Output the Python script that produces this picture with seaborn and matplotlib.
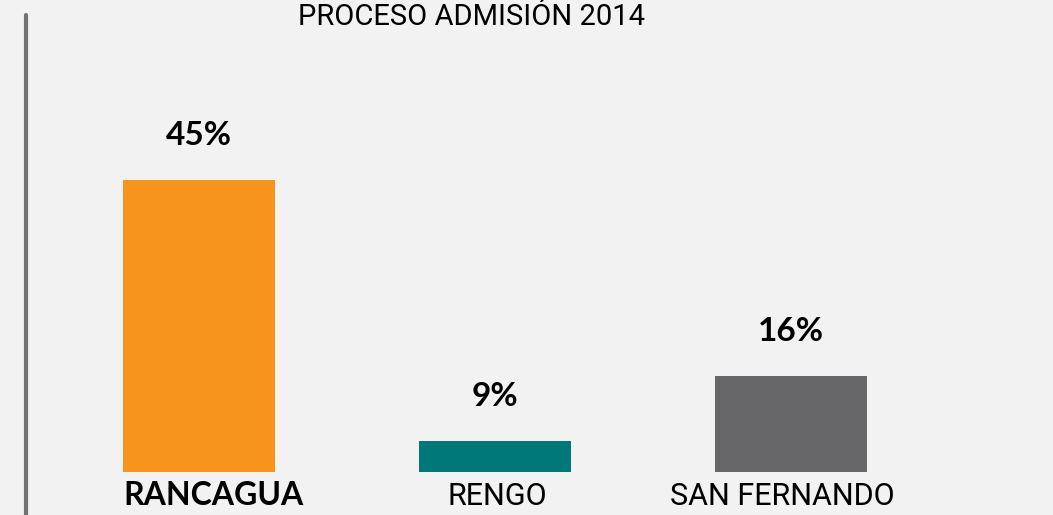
import pandas as pd
import matplotlib.pyplot as plt
import seaborn as sns

# data
ciudades = ["RANCAGUA", "RENGO", "SAN FERNANDO"]
etiquetas = ["45%", "9%", "16%"]
alturas = [45, 4.8, 14.8]   # drawn bar heights (chart is not to scale)
colores = ["#F7941D", "#00787A", "#676769"]

df = pd.DataFrame({"ciudad": ciudades, "valor": alturas})

sns.set_theme(style="white")
plt.rcParams["font.family"] = ["Roboto", "DejaVu Sans"]

fondo = "#F2F2F2"
fig = plt.figure(figsize=(10.53, 5.15), dpi=100, facecolor=fondo)
ax = fig.add_axes([51 / 1053, 43 / 515, 888 / 1053, 472 / 515])
ax.set_facecolor(fondo)

sns.barplot(data=df, x="ciudad", y="valor", hue="ciudad", palette=colores,
            width=0.513, legend=False, ax=ax, saturation=1, linewidth=0)

ax.set_xlim(-0.5, 2.5)
ax.set_ylim(0, 72.7)
ax.set_xlabel("")
ax.set_ylabel("")
ax.set_yticks([])
ax.set_xticks([])
sns.despine(ax=ax, left=True, bottom=True)

# value labels above bars
for i, (v, t) in enumerate(zip(alturas, etiquetas)):
    ax.annotate(t, (i, v), xytext=(0, 35), textcoords="offset pixels",
                ha="center", va="baseline", fontsize=24, fontweight="bold",
                color="black", family=["Lato", "DejaVu Sans"],
                annotation_clip=False)

# category labels under the bars (first one bold, slightly shifted as in source)
desplaz = [15, 2, -9]
for i, c in enumerate(ciudades):
    if i == 0:
        kw = dict(fontsize=23, fontweight="bold", family=["Lato", "DejaVu Sans"])
    else:
        kw = dict(fontsize=22)
    ax.annotate(c, (i, 0), xytext=(desplaz[i], -33), textcoords="offset pixels",
                ha="center", va="baseline", color="black",
                annotation_clip=False, **kw)

# vertical rule on the left
fig.add_artist(plt.Line2D([25.5 / 1053, 25.5 / 1053], [0, 1 - 15 / 515],
                          transform=fig.transFigure, color="#727275", lw=3))

fig.text(472 / 1053, 1 - 25 / 515, "PROCESO ADMISIÓN 2014", ha="center",
         va="baseline", fontsize=21, color="black")

fig.savefig("out.png", dpi=100, facecolor=fondo)
